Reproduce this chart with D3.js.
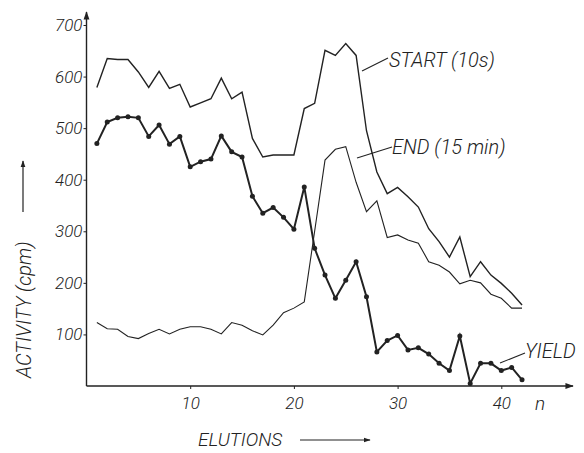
<!DOCTYPE html>
<html>
<head>
<meta charset="utf-8">
<script src="https://cdn.jsdelivr.net/npm/d3@7"></script>
<style>
  body { margin: 0; background: #fff; }
  svg text { font-family: Roboto, "DejaVu Sans Condensed", sans-serif; font-weight: 300; font-style: italic; fill: #222; }
</style>
</head>
<body>
<svg width="584" height="453"></svg>
<script>
// elution number
var elutions = d3.range(1, 43);
// activity (cpm)
var start10s = [579, 635, 633, 633, 609, 579, 610, 577, 585, 541, 549, 557, 597, 557, 570, 480, 444, 448, 448, 448,
                538, 548, 651, 641, 664, 641, 495, 415, 373, 385, 367, 347, 305, 280, 250, 289, 212, 241, 215, 199, 180, 157];
var end15min = [123, 111, 110, 96, 92, 102, 110, 101, 110, 115, 115, 110, 101, 123, 118, 107, 99, 118, 142, 151,
                163, 300, 438, 459, 464, 395, 338, 359, 288, 293, 283, 277, 241, 234, 221, 198, 205, 200, 178, 170, 151, 151];
var yieldVals = [470, 512, 520, 522, 520, 484, 506, 469, 484, 425, 435, 440, 485, 454, 444, 368, 335, 346, 327, 304,
                 386, 267, 215, 170, 205, 241, 173, 66, 88, 98, 70, 74, 62, 44, 30, 97, 5, 44, 44, 30, 36, 12];
var xTicks = [10, 20, 30, 40];
var yTicks = [100, 200, 300, 400, 500, 600, 700];

var svg = d3.select("svg");
var ink = "#222";

var x = d3.scaleLinear().domain([0, 40]).range([86.5, 501.3]);
var y = d3.scaleLinear().domain([0, 700]).range([386, 25]);

//axes lines with arrows
svg.append("defs").append("marker")
   .attr("id", "arr").attr("viewBox", "0 0 10 10")
   .attr("refX", 9).attr("refY", 5)
   .attr("markerWidth", 6).attr("markerHeight", 6)
   .attr("orient", "auto")
   .append("path").attr("d", "M0,1.5 L10,5 L0,8.5 Z").attr("fill", ink);

svg.append("line").attr("x1", x(0)).attr("y1", y(0)).attr("x2", x(0)).attr("y2", 12)
   .attr("stroke", ink).attr("stroke-width", 1.4).attr("marker-end", "url(#arr)");
svg.append("line").attr("x1", x(0)).attr("y1", y(0)).attr("x2", 573).attr("y2", y(0))
   .attr("stroke", ink).attr("stroke-width", 1.4).attr("marker-end", "url(#arr)");

var yAxis = svg.append("g").attr("transform", "translate(" + x(0) + ",0)")
   .call(d3.axisLeft(y).tickValues(yTicks).tickSize(3).tickPadding(1));
var xAxis = svg.append("g").attr("transform", "translate(0," + y(0) + ")")
   .call(d3.axisBottom(x).tickValues(xTicks).tickSize(3).tickPadding(8));
[yAxis, xAxis].forEach(function(g){
  g.select(".domain").remove();
  g.selectAll("line").attr("stroke", ink);
  g.selectAll("text").attr("font-size", 17).attr("fill", ink)
   .style("font-family", "Roboto, sans-serif");
});

//series
var line = function(vals){
  return d3.line().x(function(d, i){ return x(elutions[i]); }).y(function(d){ return y(d); })(vals);
};
svg.append("path").attr("d", line(start10s)).attr("fill", "none").attr("stroke", ink).attr("stroke-width", 1.4);
svg.append("path").attr("d", line(end15min)).attr("fill", "none").attr("stroke", ink).attr("stroke-width", 1.1);
svg.append("path").attr("d", line(yieldVals)).attr("fill", "none").attr("stroke", ink).attr("stroke-width", 2);
svg.selectAll(".dot").data(yieldVals).enter().append("circle")
   .attr("cx", function(d, i){ return x(elutions[i]); })
   .attr("cy", function(d){ return y(d); })
   .attr("r", 2.5).attr("fill", ink);

//labels with leader lines
var label = function(txt, tx, ty, x1, y1, x2, y2){
  svg.append("line").attr("x1", x1).attr("y1", y1).attr("x2", x2).attr("y2", y2)
     .attr("stroke", ink).attr("stroke-width", 1.1);
  svg.append("text").attr("x", tx).attr("y", ty).attr("font-size", 20).text(txt);
};
label("START (10s)", 389, 67, 362, 71, 388, 58);
label("END (15 min)", 392, 154, 357, 158, 392, 147);
label("YIELD", 525, 358, 500, 363, 525, 353);

svg.append("text").attr("x", 535).attr("y", 410).attr("font-size", 19).text("n");

//axis titles
svg.append("text").attr("x", 198).attr("y", 446).attr("font-size", 19).text("ELUTIONS");
svg.append("line").attr("x1", 300).attr("y1", 440).attr("x2", 370).attr("y2", 440)
   .attr("stroke", ink).attr("stroke-width", 1.2).attr("marker-end", "url(#arr)");

svg.append("text").attr("transform", "translate(31,378) rotate(-90)").attr("font-size", 20).text("ACTIVITY (cpm)");
svg.append("line").attr("x1", 23).attr("y1", 212).attr("x2", 23).attr("y2", 161)
   .attr("stroke", ink).attr("stroke-width", 1.2).attr("marker-end", "url(#arr)");
</script>
</body>
</html>
